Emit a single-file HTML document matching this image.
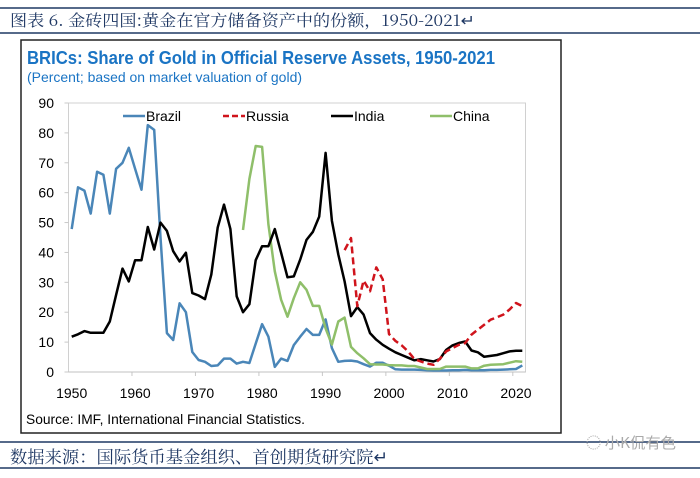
<!DOCTYPE html>
<html><head><meta charset="utf-8"><style>
body{margin:0;background:#fff;width:700px;height:473px;overflow:hidden;font-family:"Liberation Sans",sans-serif}
</style></head><body>
<svg width="700" height="473" xmlns="http://www.w3.org/2000/svg">
<line x1="0" y1="8" x2="700" y2="8" stroke="#1f3864" stroke-width="1.5"/>
<text x="10" y="26" font-size="16" fill="#1f3864" font-family="'Noto Serif CJK SC','Liberation Serif',serif" textLength="465" lengthAdjust="spacingAndGlyphs">图表 6. 金砖四国:黄金在官方储备资产中的份额，1950-2021↵</text>
<line x1="0" y1="33" x2="700" y2="33" stroke="#1f3864" stroke-width="1.5"/>
<rect x="21" y="40" width="540" height="393" fill="#fff" stroke="#222" stroke-width="1.5"/>
<text x="27" y="64" font-size="18" font-weight="bold" fill="#1a74c4" textLength="468" lengthAdjust="spacingAndGlyphs">BRICs: Share of Gold in Official Reserve Assets, 1950-2021</text>
<text x="27" y="82" font-size="14" fill="#1a74c4" textLength="275" lengthAdjust="spacingAndGlyphs">(Percent; based on market valuation of gold)</text>
<rect x="68.5" y="103" width="457" height="269" fill="none" stroke="#d0d0d0"/>
<g id="yaxis"></g>
<g id="xaxis"></g>
<g id="series"></g>
<g id="legend"></g>
<text x="26" y="424" font-size="14" fill="#000" textLength="279" lengthAdjust="spacingAndGlyphs">Source: IMF, International Financial Statistics.</text>
<line x1="0" y1="442" x2="700" y2="442" stroke="#1f3864" stroke-width="1.5"/>
<text x="10" y="463" font-size="17" fill="#1f3864" font-family="'Noto Serif CJK SC','Liberation Serif',serif" textLength="378" lengthAdjust="spacingAndGlyphs">数据来源：国际货币基金组织、首创期货研究院↵</text>
<text x="586" y="448" font-size="15" fill="#aaa" font-family="'Noto Sans CJK SC',sans-serif" textLength="90" lengthAdjust="spacingAndGlyphs">◌ 小K侃有色</text>
<line x1="0" y1="468" x2="700" y2="468" stroke="#1f3864" stroke-width="1.5"/>
</svg>
<script>
const years=[];for(let y=1950;y<=2021;y++)years.push(y);
const yTicks=[0,10,20,30,40,50,60,70,80,90];
const xTickLabels=[1950,1960,1970,1980,1990,2000,2010,2020];
const brazil=[47.8,61.8,60.7,53,67,66,53,68,70,75,68,61,82.6,81,45,13,10.7,23,20,6.7,4,3.4,2,2.2,4.5,4.5,2.8,3.4,3,9.5,16,11.8,1.7,4.5,3.7,9,11.8,14.4,12.4,12.4,17.6,8,3.4,3.7,3.8,3.5,2.6,1.8,3.1,3.1,2.1,0.9,0.8,0.8,0.8,0.7,0.6,0.5,0.5,0.5,0.6,0.6,0.7,0.6,0.6,0.6,0.7,0.7,0.8,0.9,1,2.2];
const russia=[null,null,null,null,null,null,null,null,null,null,null,null,null,null,null,null,null,null,null,null,null,null,null,null,null,null,null,null,null,null,null,null,null,null,null,null,null,null,null,null,null,null,null,40.8,44.8,22,30.6,27,35,31,12.7,10.4,8.9,6.9,4.3,3.5,2.8,2.4,4.4,6.9,8,9.1,9.7,12.5,14.2,15.8,17.5,18.3,19.2,20.9,23.1,22];
const india=[11.8,12.6,13.7,13.1,13.1,13.1,16.9,25.8,34.6,30.3,37.4,37.4,48.5,41,50,47.2,40.4,37,39.9,26.4,25.6,24.4,32.6,48.3,56,47.8,25.3,20,22.7,37.4,42.1,42.1,47.8,39.9,31.7,32,37.6,44.2,46.9,52,73.3,50.6,39.3,30.3,18.7,21.7,19.2,13,10.8,9.1,7.8,6.6,5.7,4.8,3.9,4.3,3.9,3.5,4.3,7.4,8.9,9.7,10.2,7.2,6.6,5.1,5.4,5.7,6.3,6.9,7.1,7.1];
const china=[null,null,null,null,null,null,null,null,null,null,null,null,null,null,null,null,null,null,null,null,null,null,null,null,null,null,null,47.5,64.6,75.6,75.3,49.4,33.7,24.2,18.5,24.7,30,27.5,22.1,22.1,14.6,9.2,16.9,18.2,8.4,6.3,4.6,2.6,2.5,2.5,2.3,2.2,2.2,2,2,1.5,1,1,1,1.8,1.8,1.8,1.8,1.2,1.2,2.1,2.4,2.5,2.6,3.1,3.6,3.4];
const NS='http://www.w3.org/2000/svg';
const X0=68.5,W=457,Y0=372,H=269,YMAX=90;
const xs=y=>X0+(y-1950+0.5)*W/years.length;
const ys=v=>Y0-v/YMAX*H;
function mk(tag,attrs,parent){const e=document.createElementNS(NS,tag);for(const k in attrs)e.setAttribute(k,attrs[k]);parent.appendChild(e);return e;}
const ya=document.getElementById('yaxis'),xa=document.getElementById('xaxis'),sg=document.getElementById('series'),lg=document.getElementById('legend');
yTicks.forEach(v=>{
  const t=mk('text',{x:54,y:ys(v)+5,'font-size':14,'text-anchor':'end',fill:'#000'},ya);t.textContent=v;
  
  
  const l=mk('line',{x1:X0-4,x2:X0,y1:ys(v),y2:ys(v),stroke:'#c8c8c8'},ya);
  
  
});
xTickLabels.forEach(v=>{
  const t=mk('text',{x:xs(v),y:398,'font-size':14,'text-anchor':'middle',fill:'#000'},xa);t.textContent=v;
  
  
  if(v>1950){const xx=X0+(v-1950)*W/years.length;const l=mk('line',{x1:xx,x2:xx,y1:Y0,y2:Y0+4,stroke:'#c8c8c8'},xa);
  
  }
});
const axl=mk('line',{x1:X0,x2:X0+W,y1:Y0,y2:Y0,stroke:'#c0c0c0'},xa);


function draw(data,color,dash,name){
  let d='',pen=false;
  data.forEach((v,i)=>{if(v==null){pen=false;return;}d+=(pen?'L':'M')+xs(years[i]).toFixed(1)+' '+ys(v).toFixed(1)+' ';pen=true;});
  const p=mk('path',{d:d,fill:'none',stroke:color,'stroke-width':2.5,'stroke-linejoin':'round'},sg);
  if(dash)p.setAttribute('stroke-dasharray',dash);
  
  
}
draw(brazil,'#4a86b8',null,'brazil');
draw(china,'#8fbf6a',null,'china');
draw(india,'#000',null,'india');
draw(russia,'#d0141c','7 4','russia');
const leg=[['Brazil','#4a86b8',null,123],['Russia','#d0141c','7 4',223],['India','#000',null,331],['China','#8fbf6a',null,430]];
leg.forEach(([n,c,da,x])=>{
  const l=mk('line',{x1:x,x2:x+22,y1:116,y2:116,stroke:c,'stroke-width':2.5},lg);
  if(da)l.setAttribute('stroke-dasharray','6 3');
  
  
  const t=mk('text',{x:x+23,y:121,'font-size':14,fill:'#000'},lg);t.textContent=n;
  
  
});
</script>
</body></html>
